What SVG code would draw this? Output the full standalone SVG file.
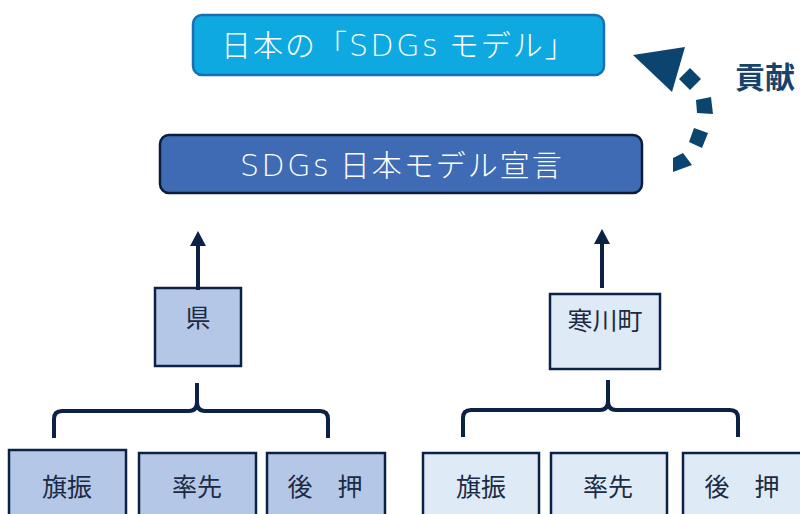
<svg xmlns="http://www.w3.org/2000/svg" width="800" height="514" viewBox="0 0 800 514">
<style>
.t{font-family:"Noto Sans CJK JP","Noto Sans",sans-serif;}
.w{fill:#ffffff;font-size:30px;font-weight:300;letter-spacing:2px;}
.b{fill:#1c2a44;font-size:25px;text-anchor:middle;}
.dk{fill:#b4c7e7;stroke:#0c2146;stroke-width:2.5;}
.lt{fill:#deebf7;stroke:#0c2146;stroke-width:2.5;}
.conn{fill:none;stroke:#0c2146;stroke-width:4;}
.lat{font-family:"DejaVu Sans","Noto Sans",sans-serif;letter-spacing:2.5px;}
</style>
<defs>
<marker id="ah" viewBox="0 0 15 16" refX="0" refY="8" markerWidth="15" markerHeight="16" markerUnits="userSpaceOnUse" orient="auto">
<polygon points="0,0 15,8 0,16" fill="#0c2146"/>
</marker>
</defs>
<rect width="800" height="514" fill="#ffffff"/>

<g id="node-model">
<rect x="193" y="15" width="411" height="60" rx="9" fill="#0ea9e1" stroke="#1a6fb3" stroke-width="2.5"/>
<text class="t w" x="221" y="56">日本の「<tspan class="lat">SDGs</tspan> モデル」</text>
</g>

<g id="node-declaration">
<rect x="160" y="135" width="482" height="58" rx="9" fill="#3f6bb4" stroke="#0b1d3d" stroke-width="2.5"/>
<text class="t w" x="240" y="176"><tspan class="lat">SDGs</tspan> 日本モデル宣言</text>
</g>

<g id="contribution-arrow" fill="#0c4470">
<polygon points="633,55 685,47 672,92"/>
<polygon points="679,79 690,68 701,79 690,90"/>
<polygon points="696,100 711,97 713,114 697,113"/>
<polygon points="694,128 708,133 702,148 689,142"/>
<polygon points="673,158 683,153 692,165 673,172"/>
<text class="t" x="735" y="88" font-size="30" font-weight="bold" fill="#17426b">貢献</text>
</g>

<g id="node-ken">
<rect class="dk" x="155" y="288" width="86" height="78"/>
<text class="t b" x="198" y="327" font-size="26">県</text>
</g>

<g id="node-samukawa">
<rect class="lt" x="550" y="294" width="110" height="75"/>
<text class="t b" x="605" y="330" font-size="27">寒川町</text>
</g>

<g id="node-l-hatafuri">
<rect class="dk" x="9" y="450" width="117" height="70"/>
<text class="t b" x="67" y="496">旗振</text>
</g>
<g id="node-l-sossen">
<rect class="dk" x="139" y="453" width="117" height="70"/>
<text class="t b" x="197" y="496">率先</text>
</g>
<g id="node-l-atooshi">
<rect class="dk" x="267" y="453" width="118" height="70"/>
<text class="t b" x="325" y="496">後　押</text>
</g>

<g id="node-r-hatafuri">
<rect class="lt" x="423" y="453" width="116" height="70"/>
<text class="t b" x="481" y="496">旗振</text>
</g>
<g id="node-r-sossen">
<rect class="lt" x="551" y="453" width="116" height="70"/>
<text class="t b" x="608" y="496">率先</text>
</g>
<g id="node-r-atooshi">
<rect class="lt" x="683" y="453" width="130" height="70"/>
<text class="t b" x="742" y="496">後　押</text>
</g>

<g id="connectors">
<line class="conn" x1="198" y1="290" x2="198" y2="246" marker-end="url(#ah)"/>
<line class="conn" x1="602" y1="288" x2="602" y2="244" marker-end="url(#ah)"/>
<path class="conn" d="M54,438 V419 Q54,411 62,411 H189 Q197,411 197,402 V383 M197,402 Q197,411 205,411 H320 Q328,411 328,419 V438"/>
<path class="conn" d="M463,437 V418 Q463,410 471,410 H600 Q608,410 608,401 V380 M608,401 Q608,410 616,410 H730 Q738,410 738,418 V437"/>
</g>
</svg>
